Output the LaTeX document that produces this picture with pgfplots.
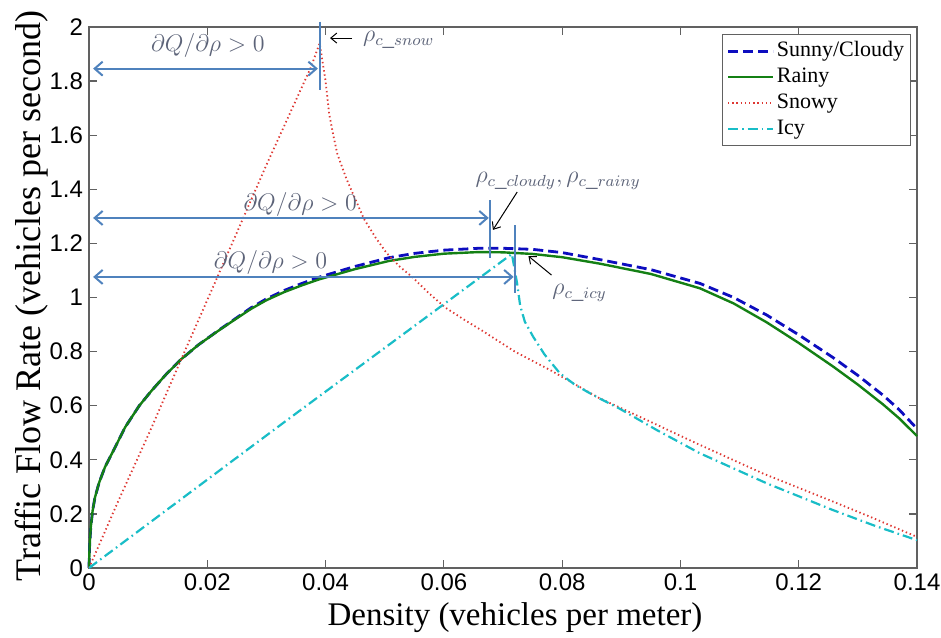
\documentclass[border=0pt]{standalone}
\usepackage{fontspec}
\setmainfont{Liberation Serif}
\newfontfamily\arialf{Liberation Sans}
\usepackage{pgfplots}
\pgfplotsset{compat=1.18}
\usetikzlibrary{arrows.meta}
\definecolor{sunny}{rgb}{0.05,0.05,0.75}
\definecolor{rainy}{rgb}{0.08,0.5,0.08}
\definecolor{snowy}{rgb}{0.87,0.22,0.2}
\definecolor{icy}{rgb}{0.1,0.74,0.78}
\definecolor{axisgray}{rgb}{0.38,0.38,0.38}
\definecolor{annot}{rgb}{0.31,0.51,0.74}
\definecolor{annottxt}{rgb}{0.36,0.39,0.47}
\begin{document}
\begin{tikzpicture}
\begin{axis}[
  scale only axis, width=414pt, height=270.5pt,
  xmin=0, xmax=0.14, ymin=0, ymax=2,
  xtick={0,0.02,0.04,0.06,0.08,0.1,0.12,0.14},
  xticklabels={0,0.02,0.04,0.06,0.08,0.1,0.12,0.14},
  ytick={0,0.2,0.4,0.6,0.8,1,1.2,1.4,1.6,1.8,2},
  yticklabels={0,0.2,0.4,0.6,0.8,1,1.2,1.4,1.6,1.8,2},
  tick label style={font=\arialf\fontsize{12}{14}\selectfont},
  xticklabel style={yshift=0pt, inner sep=2.5pt},
  yticklabel style={xshift=0.5pt},
  tick align=inside, major tick length=4pt,
  axis line style={draw=axisgray, line width=0.8pt},
  every tick/.style={axisgray, line width=0.6pt},
  clip=false,
  legend style={at={(rel axis cs:1,1)}, anchor=north east, xshift=-3pt, yshift=-3.5pt,
    draw=axisgray, line width=0.6pt, font=\fontsize{11}{13}\selectfont,
    inner sep=2pt, row sep=0pt,
    nodes={inner sep=1.2pt, text height=8pt, text depth=2.5pt}},
  legend cell align=left,
  legend image code/.code={\draw[#1] (0pt,0pt) -- (22.5pt,0pt);},
]
\addplot[sunny, line width=1.4pt, dash pattern=on 5pt off 2.5pt] coordinates {
(0,0) (0.0001,0.08) (0.0003,0.15) (0.0006,0.21) (0.001,0.26) (0.0017,0.315)
(0.0027,0.373) (0.0045,0.45) (0.0061,0.52) (0.0085,0.60) (0.0106,0.656)
(0.013,0.715) (0.0156,0.772) (0.0185,0.825) (0.0218,0.877) (0.0245,0.918)
(0.0274,0.962) (0.030,0.995) (0.033,1.026) (0.036,1.052) (0.0389,1.075)
(0.045,1.115) (0.0507,1.147) (0.055,1.163) (0.06,1.175) (0.0659,1.182)
(0.070,1.182) (0.075,1.178) (0.080,1.166) (0.0864,1.140) (0.095,1.103)
(0.1033,1.052) (0.109,1.000) (0.1146,0.935) (0.120,0.862) (0.1258,0.778)
(0.130,0.712) (0.1343,0.638) (0.137,0.585) (0.14,0.515)};
\addlegendentry{Sunny/Cloudy}
\addplot[rainy, line width=1.2pt] coordinates {
(0,0) (0.0001,0.08) (0.0003,0.15) (0.0006,0.21) (0.001,0.26) (0.0017,0.315)
(0.0027,0.373) (0.0045,0.45) (0.0061,0.52) (0.0085,0.60) (0.0106,0.656)
(0.013,0.715) (0.0156,0.772) (0.0185,0.825) (0.0218,0.876) (0.0245,0.916)
(0.0274,0.958) (0.030,0.99) (0.033,1.02) (0.036,1.045) (0.0389,1.067)
(0.045,1.105) (0.0507,1.135) (0.055,1.150) (0.06,1.162) (0.0659,1.168)
(0.070,1.167) (0.075,1.161) (0.080,1.149) (0.0864,1.125) (0.095,1.087)
(0.1033,1.034) (0.109,0.978) (0.1146,0.908) (0.120,0.832) (0.1258,0.745)
(0.130,0.678) (0.1343,0.604) (0.137,0.553) (0.14,0.488)};
\addlegendentry{Rainy}
\addplot[snowy, line width=0.9pt, dash pattern=on 0.7pt off 1.4pt] coordinates {
(0,0) (0.0049,0.245) (0.0106,0.52) (0.0156,0.772) (0.0218,1.08) (0.030,1.49)
(0.0375,1.85) (0.0390,1.94) (0.0395,1.87) (0.0400,1.80) (0.0406,1.68)
(0.0413,1.60) (0.0420,1.53) (0.0435,1.44) (0.0451,1.36) (0.0465,1.29)
(0.0485,1.22) (0.0503,1.165) (0.0525,1.115) (0.0548,1.073) (0.0575,1.015)
(0.0603,0.962) (0.0635,0.917) (0.0665,0.877) (0.0720,0.80) (0.0782,0.729)
(0.0861,0.63) (0.0945,0.545) (0.1029,0.459) (0.114,0.349) (0.1253,0.25)
(0.1320,0.19) (0.14,0.115)};
\addlegendentry{Snowy}
\addplot[icy, line width=1.1pt, dash pattern=on 5pt off 2pt on 0.8pt off 2pt] coordinates {
(0,0) (0.033,0.539) (0.0715,1.161) (0.0720,1.10) (0.0724,1.05) (0.0729,0.97)
(0.0737,0.91) (0.0751,0.855) (0.0770,0.79) (0.0796,0.72) (0.0820,0.68)
(0.0842,0.652) (0.0864,0.626) (0.0898,0.588) (0.0960,0.51) (0.1033,0.424)
(0.1146,0.313) (0.1258,0.214) (0.1330,0.155) (0.14,0.103)};
\addlegendentry{Icy}
% annotations
\tikzset{ann/.style={annot, line width=1pt},
  annarr/.style={annot, line width=1pt, {Straight Barb[length=4pt,width=7pt]}-{Straight Barb[length=4pt,width=7pt]}},
  blk/.style={black, line width=0.5pt, -{Straight Barb[length=3pt,width=5pt]}},
  atxt/.style={text=annottxt, font=\fontsize{11.5}{13}\selectfont, inner sep=0pt}}
\draw[ann] (axis cs:0.03906,2.02) -- (axis cs:0.03906,1.767);
\draw[annarr] (axis cs:0.0007,1.846) -- (axis cs:0.0387,1.846);
\node[atxt] at (axis cs:0.0201,1.93) {$\partial Q/\partial\rho > 0$};
\draw[blk] (axis cs:0.04447,1.959) -- (axis cs:0.04075,1.959);
\node[atxt, anchor=west] at (axis cs:0.0463,1.952) {$\rho_{c\_snow}$};
\draw[ann] (axis cs:0.0678,1.360) -- (axis cs:0.0678,1.146);
\draw[annarr] (axis cs:0.0007,1.294) -- (axis cs:0.0676,1.294);
\node[atxt] at (axis cs:0.0357,1.345) {$\partial Q/\partial\rho > 0$};
\node[atxt, anchor=west] at (axis cs:0.0653,1.431) {$\rho_{c\_cloudy},\rho_{c\_rainy}$};
\draw[blk] (axis cs:0.0724,1.390) -- (axis cs:0.0683,1.250);
\draw[ann] (axis cs:0.0720,1.268) -- (axis cs:0.0720,1.017);
\draw[annarr] (axis cs:0.0007,1.076) -- (axis cs:0.0718,1.076);
\node[atxt] at (axis cs:0.0307,1.131) {$\partial Q/\partial\rho > 0$};
\draw[blk] (axis cs:0.0782,1.083) -- (axis cs:0.0743,1.153);
\node[atxt, anchor=west] at (axis cs:0.0783,1.017) {$\rho_{c\_icy}$};
\end{axis}
\node[rotate=90, font=\fontsize{18}{21}\selectfont] at (-28.5pt,136pt) {Traffic Flow Rate (vehicles per second)};
\node[font=\fontsize{16.5}{19}\selectfont, inner sep=1pt] at (213pt,-25pt) {Density (vehicles per meter)};
\pgfresetboundingbox
\useasboundingbox (-44.5pt,-34.5pt) rectangle (426pt,284pt);
\end{tikzpicture}
\end{document}
